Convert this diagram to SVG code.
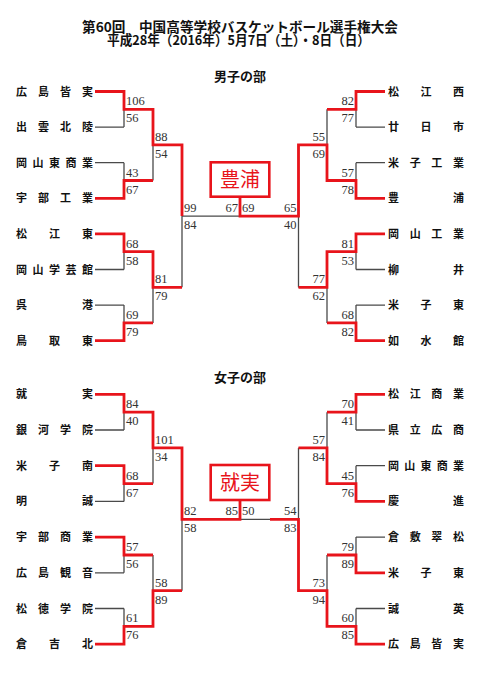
<svg xmlns="http://www.w3.org/2000/svg" width="481" height="680" viewBox="0 0 481 680">
<style>
.bg{fill:#fff}
.ttl{font-family:'Noto Sans CJK JP','Noto Sans CJK SC',sans-serif;font-weight:bold;font-size:13.5px;fill:#111}
.hd{font-family:'Noto Sans CJK JP','Noto Sans CJK SC',sans-serif;font-weight:bold;font-size:13px;fill:#111;text-anchor:middle}
.nm{font-family:'Noto Sans CJK JP','Noto Sans CJK SC',sans-serif;font-weight:bold;font-size:11px;fill:#111}
.sc{font-family:'Liberation Serif',serif;font-size:12.5px;fill:#333}
.r{text-anchor:end}
.gl{fill:none;stroke:#4a4a4a;stroke-width:1.3}
.rl{fill:none;stroke:#e8141b;stroke-width:2.8;stroke-linejoin:miter}
.box{fill:#fff;stroke:#e8141b;stroke-width:2.6}
.ch{font-family:'Noto Sans CJK JP','Noto Sans CJK SC',sans-serif;font-size:20px;fill:#e8141b;text-anchor:middle}
</style>
<rect class="bg" x="0" y="0" width="481" height="680"/>

<g id="title">
<text class="ttl" text-anchor="middle"><tspan x="240" y="32" textLength="316" lengthAdjust="spacingAndGlyphs">第60回　中国高等学校バスケットボール選手権大会</tspan><tspan x="238.5" y="44.5" textLength="263" lengthAdjust="spacingAndGlyphs">平成28年（2016年）5月7日（土）・8日（日）</tspan></text>
</g>
<g id="head-boys"><text class="hd" x="240" y="81">男子の部</text></g>
<g id="head-girls"><text class="hd" x="240" y="381.5">女子の部</text></g>

<g id="connectors">
<path class="gl" d="M95,91.5H124M95,127.1H124M95,162.7H124M95,198.3H124M95,233.9H124M95,269.5H124M95,305.1H124M95,340.7H124M124,91.5V127.1M124,162.7V198.3M124,233.9V269.5M124,305.1V340.7M124,109.3H153M124,180.5H153M124,251.7H153M124,322.9H153M153,109.3V180.5M153,251.7V322.9M153,144.9H182M153,287.3H182M182,144.9V287.3M182,216.1H298.5"/>
<path class="gl" d="M385,91.5H356M385,127.1H356M385,162.7H356M385,198.3H356M385,233.9H356M385,269.5H356M385,305.1H356M385,340.7H356M356,91.5V127.1M356,162.7V198.3M356,233.9V269.5M356,305.1V340.7M356,109.3H327M356,180.5H327M356,251.7H327M356,322.9H327M327,109.3V180.5M327,251.7V322.9M327,144.9H298.5M327,287.3H298.5M298.5,144.9V287.3"/>
<path class="gl" d="M95,394.3H124M95,430H124M95,465.7H124M95,501.4H124M95,537.1H124M95,572.8H124M95,608.5H124M95,644.2H124M124,394.3V430M124,465.7V501.4M124,537.1V572.8M124,608.5V644.2M124,412.2H153M124,483.6H153M124,555H153M124,626.4H153M153,412.2V483.6M153,555V626.4M153,447.9H182M153,590.7H182M182,447.9V590.7M182,519.3H298.5"/>
<path class="gl" d="M385,394.3H356M385,430H356M385,465.7H356M385,501.4H356M385,537.1H356M385,572.8H356M385,608.5H356M385,644.2H356M356,394.3V430M356,465.7V501.4M356,537.1V572.8M356,608.5V644.2M356,412.2H327M356,483.6H327M356,555H327M356,626.4H327M327,412.2V483.6M327,555V626.4M327,447.9H298.5M327,590.7H298.5M298.5,447.9V590.7"/>
<path class="rl" d="M95,91.5H124V109.3H153V144.9H182V216.1"/>
<path class="rl" d="M95,198.3H124V180.5H153"/>
<path class="rl" d="M95,233.9H124V251.7H153V287.3H182"/>
<path class="rl" d="M95,340.7H124V322.9H153"/>
<path class="rl" d="M385,91.5H356V109.3H327"/>
<path class="rl" d="M385,198.3H356V180.5H327V144.9H298.5V216.1H240V196.7"/>
<path class="rl" d="M385,233.9H356V251.7H327V287.3H298.5"/>
<path class="rl" d="M385,340.7H356V322.9H327"/>
<path class="rl" d="M95,394.3H124V412.2H153V447.9H182V519.3H240V500"/>
<path class="rl" d="M95,465.7H124V483.6H153"/>
<path class="rl" d="M95,537.1H124V555H153"/>
<path class="rl" d="M95,644.2H124V626.4H153V590.7H182"/>
<path class="rl" d="M385,394.3H356V412.2H327"/>
<path class="rl" d="M385,501.4H356V483.6H327V447.9H298.5"/>
<path class="rl" d="M385,572.8H356V555H327"/>
<path class="rl" d="M385,644.2H356V626.4H327V590.7H298.5V519.3H270"/>
</g>

<g id="champ-boys"><rect class="box" x="210.7" y="162.3" width="58.6" height="34.4"/><text class="ch" x="240" y="186.5">豊浦</text></g>
<g id="champ-girls"><rect class="box" x="210.7" y="465" width="58.6" height="35"/><text class="ch" x="240" y="489.5">就実</text></g>

<g id="b-l1"><text class="nm" x="16 38 60 82" y="95.5">広島皆実</text></g>
<g id="b-l2"><text class="nm" x="16 38 60 82" y="131.1">出雲北陵</text></g>
<g id="b-l3"><text class="nm" x="16 32.5 49 65.5 82" y="166.7">岡山東商業</text></g>
<g id="b-l4"><text class="nm" x="16 38 60 82" y="202.3">宇部工業</text></g>
<g id="b-l5"><text class="nm" x="16 49 82" y="237.9">松江東</text></g>
<g id="b-l6"><text class="nm" x="16 32.5 49 65.5 82" y="273.5">岡山学芸館</text></g>
<g id="b-l7"><text class="nm" x="16 82" y="309.1">呉港</text></g>
<g id="b-l8"><text class="nm" x="16 49 82" y="344.7">鳥取東</text></g>
<g id="b-r1"><text class="nm" x="388 420.5 453" y="95.5">松江西</text></g>
<g id="b-r2"><text class="nm" x="388 420.5 453" y="131.1">廿日市</text></g>
<g id="b-r3"><text class="nm" x="388 409.7 431.3 453" y="166.7">米子工業</text></g>
<g id="b-r4"><text class="nm" x="388 453" y="202.3">豊浦</text></g>
<g id="b-r5"><text class="nm" x="388 409.7 431.3 453" y="237.9">岡山工業</text></g>
<g id="b-r6"><text class="nm" x="388 453" y="273.5">柳井</text></g>
<g id="b-r7"><text class="nm" x="388 420.5 453" y="309.1">米子東</text></g>
<g id="b-r8"><text class="nm" x="388 420.5 453" y="344.7">如水館</text></g>
<g id="g-l1"><text class="nm" x="16 82" y="398.3">就実</text></g>
<g id="g-l2"><text class="nm" x="16 38 60 82" y="434">銀河学院</text></g>
<g id="g-l3"><text class="nm" x="16 49 82" y="469.7">米子南</text></g>
<g id="g-l4"><text class="nm" x="16 82" y="505.4">明誠</text></g>
<g id="g-l5"><text class="nm" x="16 38 60 82" y="541.1">宇部商業</text></g>
<g id="g-l6"><text class="nm" x="16 38 60 82" y="576.8">広島観音</text></g>
<g id="g-l7"><text class="nm" x="16 38 60 82" y="612.5">松徳学院</text></g>
<g id="g-l8"><text class="nm" x="16 49 82" y="648.2">倉吉北</text></g>
<g id="g-r1"><text class="nm" x="388 409.7 431.3 453" y="398.3">松江商業</text></g>
<g id="g-r2"><text class="nm" x="388 409.7 431.3 453" y="434">県立広商</text></g>
<g id="g-r3"><text class="nm" x="388 404.25 420.5 436.75 453" y="469.7">岡山東商業</text></g>
<g id="g-r4"><text class="nm" x="388 453" y="505.4">慶進</text></g>
<g id="g-r5"><text class="nm" x="388 409.7 431.3 453" y="541.1">倉敷翠松</text></g>
<g id="g-r6"><text class="nm" x="388 420.5 453" y="576.8">米子東</text></g>
<g id="g-r7"><text class="nm" x="388 453" y="612.5">誠英</text></g>
<g id="g-r8"><text class="nm" x="388 409.7 431.3 453" y="648.2">広島皆実</text></g>

<g id="scores-boys">
<text class="sc" x="126" y="105.3">106</text><text class="sc" x="126" y="122.3">56</text>
<text class="sc" x="126" y="176.5">43</text><text class="sc" x="126" y="193.5">67</text>
<text class="sc" x="126" y="247.7">68</text><text class="sc" x="126" y="264.7">58</text>
<text class="sc" x="126" y="318.9">69</text><text class="sc" x="126" y="335.9">79</text>
<text class="sc" x="155" y="140.9">88</text><text class="sc" x="155" y="157.9">54</text>
<text class="sc" x="155" y="283.3">81</text><text class="sc" x="155" y="300.3">79</text>
<text class="sc" x="184" y="212.1">99</text><text class="sc" x="184" y="229.1">84</text>
<text class="sc r" x="238" y="212.1">67</text><text class="sc" x="242" y="212.1">69</text>
<text class="sc r" x="354" y="105.3">82</text><text class="sc r" x="354" y="122.3">77</text>
<text class="sc r" x="354" y="176.5">57</text><text class="sc r" x="354" y="193.5">78</text>
<text class="sc r" x="354" y="247.7">81</text><text class="sc r" x="354" y="264.7">53</text>
<text class="sc r" x="354" y="318.9">68</text><text class="sc r" x="354" y="335.9">82</text>
<text class="sc r" x="325" y="140.9">55</text><text class="sc r" x="325" y="157.9">69</text>
<text class="sc r" x="325" y="283.3">77</text><text class="sc r" x="325" y="300.3">62</text>
<text class="sc r" x="296.5" y="212.1">65</text><text class="sc r" x="296.5" y="229.1">40</text>
</g>
<g id="scores-girls">
<text class="sc" x="126" y="408.2">84</text><text class="sc" x="126" y="425.2">40</text>
<text class="sc" x="126" y="479.6">68</text><text class="sc" x="126" y="496.6">67</text>
<text class="sc" x="126" y="551">57</text><text class="sc" x="126" y="568">56</text>
<text class="sc" x="126" y="622.4">61</text><text class="sc" x="126" y="639.4">76</text>
<text class="sc" x="155" y="443.9">101</text><text class="sc" x="155" y="460.9">34</text>
<text class="sc" x="155" y="586.7">58</text><text class="sc" x="155" y="603.7">89</text>
<text class="sc" x="184" y="515.3">82</text><text class="sc" x="184" y="532.3">58</text>
<text class="sc r" x="238" y="515.3">85</text><text class="sc" x="242" y="515.3">50</text>
<text class="sc r" x="354" y="408.2">70</text><text class="sc r" x="354" y="425.2">41</text>
<text class="sc r" x="354" y="479.6">45</text><text class="sc r" x="354" y="496.6">76</text>
<text class="sc r" x="354" y="551">79</text><text class="sc r" x="354" y="568">89</text>
<text class="sc r" x="354" y="622.4">60</text><text class="sc r" x="354" y="639.4">85</text>
<text class="sc r" x="325" y="443.9">57</text><text class="sc r" x="325" y="460.9">84</text>
<text class="sc r" x="325" y="586.7">73</text><text class="sc r" x="325" y="603.7">94</text>
<text class="sc r" x="296.5" y="515.3">54</text><text class="sc r" x="296.5" y="532.3">83</text>
</g>
</svg>
